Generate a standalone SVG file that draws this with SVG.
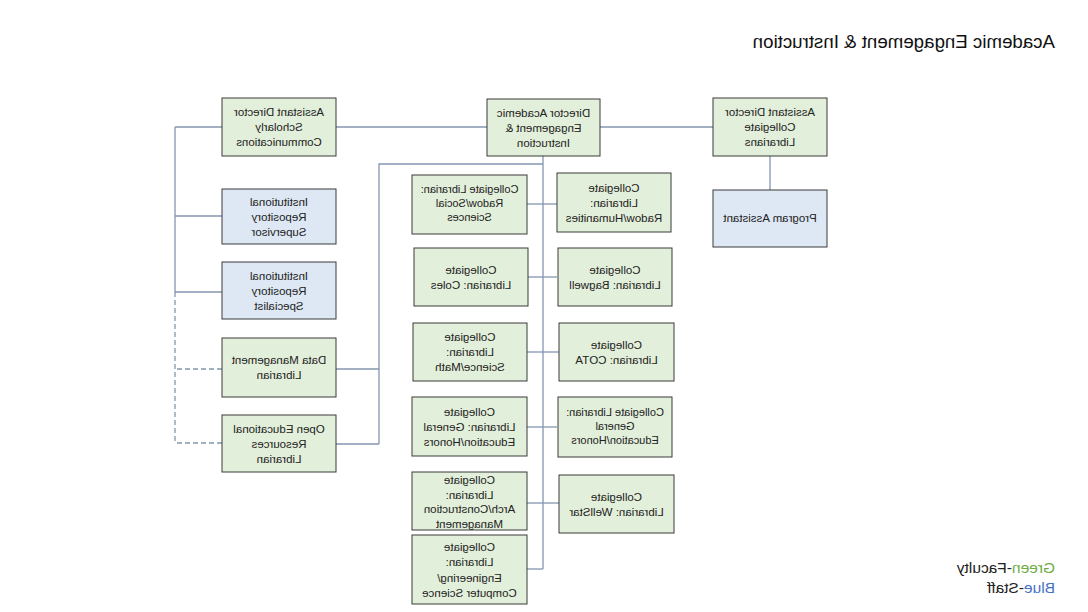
<svg xmlns="http://www.w3.org/2000/svg" width="1088" height="612" viewBox="0 0 1088 612">
<style>
.g{fill:#e2efda;stroke:#3a3a3a;stroke-width:1}
.b{fill:#dde8f4;stroke:#3a3a3a;stroke-width:1}
text{font-family:"Liberation Sans",Arial,sans-serif;font-size:11.5px;fill:#222;text-anchor:middle}
.s{font-size:11px}
.c line,.c polyline{stroke:#8496b0;stroke-width:1.3;fill:none}
.c .d{stroke-dasharray:5 3}
.t{font-size:18.7px;text-anchor:start;fill:#111}
.l{font-size:15.5px;text-anchor:start;fill:#222}
</style>
<rect width="1088" height="612" fill="#fff"/>
<g transform="matrix(-1 0 0 1 1088 0)">
<text class="t" x="33" y="48">Academic Engagement &amp; Instruction</text>
<g id="legend">
<text class="l" x="33" y="573"><tspan fill="#70ad47">Green</tspan>-Faculty</text>
<text class="l" x="33" y="593"><tspan fill="#4472c4">Blue</tspan>-Staff</text>
</g>
<g class="c" id="connectors">
<line x1="375" y1="127" x2="488" y2="127"/>
<line x1="601" y1="127" x2="752" y2="127"/>
<line x1="866" y1="127" x2="913" y2="127"/>
<line x1="913" y1="127" x2="913" y2="292"/>
<line class="d" x1="913" y1="292" x2="913" y2="443"/>
<line x1="866" y1="216" x2="913" y2="216"/>
<line x1="866" y1="292" x2="913" y2="292"/>
<line class="d" x1="866" y1="369" x2="913" y2="369"/>
<line class="d" x1="866" y1="443" x2="913" y2="443"/>
<line x1="318" y1="156" x2="318" y2="190"/>
<line x1="545" y1="156" x2="545" y2="569"/>
<polyline points="545,164 709,164 709,444"/>
<line x1="709" y1="369" x2="752" y2="369"/>
<line x1="709" y1="444" x2="752" y2="444"/>
<line x1="531" y1="204" x2="561" y2="204"/>
<line x1="531" y1="277" x2="561" y2="277"/>
<line x1="529" y1="352" x2="561" y2="352"/>
<line x1="531" y1="427" x2="561" y2="427"/>
<line x1="529" y1="503" x2="561" y2="503"/>
<line x1="545" y1="569" x2="561" y2="569"/>
</g>
<g id="n-director"><rect class="g" x="488" y="99" width="113" height="57"/><text x="544.5" y="117">Director Academic<tspan x="544.5" dy="15">Engagement &amp;</tspan><tspan x="544.5" dy="15">Instruction</tspan></text></g>
<g id="n-scholarly"><rect class="g" x="752" y="98" width="114" height="58"/><text x="809" y="116">Assistant Director<tspan x="809" dy="15">Scholarly</tspan><tspan x="809" dy="15">Communications</tspan></text></g>
<g id="n-asstcoll"><rect class="g" x="261" y="98" width="114" height="58"/><text x="318" y="116">Assistant Director<tspan x="318" dy="15">Collegiate</tspan><tspan x="318" dy="15">Librarians</tspan></text></g>
<g id="n-program"><rect class="b" x="261" y="190" width="114" height="57"/><text x="318" y="222">Program Assistant</text></g>
<g id="n-supervisor"><rect class="b" x="752" y="189" width="114" height="55"/><text x="809" y="205.5">Institutional<tspan x="809" dy="15">Repository</tspan><tspan x="809" dy="15">Supervisor</tspan></text></g>
<g id="n-specialist"><rect class="b" x="752" y="262" width="114" height="57"/><text x="809" y="279.5">Institutional<tspan x="809" dy="15">Repository</tspan><tspan x="809" dy="15">Specialist</tspan></text></g>
<g id="n-data"><rect class="g" x="752" y="338" width="114" height="59"/><text x="809" y="364">Data Management<tspan x="809" dy="15">Librarian</tspan></text></g>
<g id="n-oer"><rect class="g" x="752" y="415" width="114" height="57"/><text x="809" y="432.5">Open Educational<tspan x="809" dy="15">Resources</tspan><tspan x="809" dy="15">Librarian</tspan></text></g>
<g id="n-radowsoc"><rect class="g" x="561" y="175" width="115" height="59"/><text class="s" x="618.5" y="193">Collegiate Librarian:<tspan x="618.5" dy="14">Radow/Social</tspan><tspan x="618.5" dy="14">Sciences</tspan></text></g>
<g id="n-radowhum"><rect class="g" x="417" y="173" width="114" height="59"/><text x="474" y="191.5">Collegiate<tspan x="474" dy="15">Librarian:</tspan><tspan x="474" dy="15">Radow/Humanities</tspan></text></g>
<g id="n-coles"><rect class="g" x="560" y="248" width="114" height="58"/><text x="617" y="273.5">Collegiate<tspan x="617" dy="15">Librarian: Coles</tspan></text></g>
<g id="n-bagwell"><rect class="g" x="416" y="248" width="114" height="58"/><text x="473" y="273.5">Collegiate<tspan x="473" dy="15">Librarian: Bagwell</tspan></text></g>
<g id="n-science"><rect class="g" x="561" y="323" width="114" height="58"/><text x="618" y="341">Collegiate<tspan x="618" dy="15">Librarian:</tspan><tspan x="618" dy="15">Science/Math</tspan></text></g>
<g id="n-cota"><rect class="g" x="414" y="323" width="115" height="58"/><text x="471.5" y="348.5">Collegiate<tspan x="471.5" dy="15">Librarian: COTA</tspan></text></g>
<g id="n-genedl"><rect class="g" x="561" y="397" width="115" height="59"/><text x="618.5" y="415.5">Collegiate<tspan x="618.5" dy="15">Librarian: General</tspan><tspan x="618.5" dy="15">Education/Honors</tspan></text></g>
<g id="n-genedr"><rect class="g" x="416" y="397" width="114" height="60"/><text class="s" x="473" y="416">Collegiate Librarian:<tspan x="473" dy="14">General</tspan><tspan x="473" dy="14">Education/Honors</tspan></text></g>
<g id="n-arch"><rect class="g" x="561" y="472" width="115" height="58"/><text x="618.5" y="484">Collegiate<tspan x="618.5" dy="14.5">Librarian:</tspan><tspan x="618.5" dy="14.5">Arch/Construction</tspan><tspan x="618.5" dy="14.5">Management</tspan></text></g>
<g id="n-wellstar"><rect class="g" x="414" y="475" width="115" height="58"/><text x="471.5" y="500.5">Collegiate<tspan x="471.5" dy="15">Librarian: WellStar</tspan></text></g>
<g id="n-engineering"><rect class="g" x="561" y="535" width="115" height="69"/><text x="618.5" y="551">Collegiate<tspan x="618.5" dy="15.3">Librarian:</tspan><tspan x="618.5" dy="15.3">Engineering/</tspan><tspan x="618.5" dy="15.3">Computer Science</tspan></text></g>
</g>
</svg>
